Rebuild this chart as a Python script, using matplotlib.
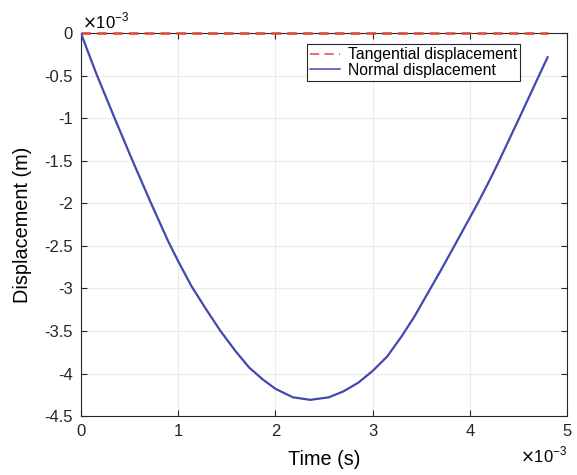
import numpy as np
import matplotlib
matplotlib.use("Agg")
import matplotlib.pyplot as plt

# values (time in ms, displacement in mm, i.e. x 10^-3)
time_ms = [0, 0.16, 0.34, 0.52, 0.71, 0.895, 1.0, 1.135, 1.29, 1.435, 1.585, 1.73,
           1.87, 2.0, 2.18, 2.36, 2.55, 2.7, 2.85, 3.0, 3.15, 3.30, 3.43, 3.56,
           3.7, 3.85, 3.97, 4.08, 4.18, 4.28, 4.49, 4.71, 4.80]
normal_mm = [0, -0.48, -0.98, -1.47, -1.97, -2.44, -2.68, -2.97, -3.25, -3.5, -3.73,
             -3.93, -4.07, -4.18, -4.28, -4.31, -4.28, -4.21, -4.11, -3.97, -3.80,
             -3.56, -3.33, -3.07, -2.79, -2.48, -2.23, -2.0, -1.78, -1.55, -1.04,
             -0.5, -0.28]
tangential_mm = [0.0] * len(time_ms)

xticks = [0, 1, 2, 3, 4, 5]
yticks = [0, -0.5, -1, -1.5, -2, -2.5, -3, -3.5, -4, -4.5]

plt.rcParams["font.family"] = ["Liberation Sans", "DejaVu Sans"]
plt.rcParams["axes.unicode_minus"] = False

fig = plt.figure(figsize=(5.77, 4.75), dpi=100)
ax = fig.add_axes([0.1404, 0.1242, 0.8423, 0.8053])

ax.plot(time_ms, tangential_mm, color="#E2483B", lw=1.9, dashes=(3.6, 2.4),
        label="Tangential displacement", clip_on=False, zorder=3)
ax.plot(time_ms, normal_mm, color="#4149B0", lw=1.6, label="Normal displacement",
        zorder=4)

ax.set_xlim(0, 5)
ax.set_ylim(-4.5, 0)
ax.set_xticks(xticks)
ax.set_yticks(yticks)
ax.set_xticklabels(["%g" % v for v in xticks])
ax.set_yticklabels(["%g" % v for v in yticks])
ax.grid(True, color="#EBEBEB", lw=0.8)
ax.set_axisbelow(True)
ax.tick_params(direction="in", length=4, width=0.8, colors="#262626",
               labelsize=12, top=True, right=True, pad=6)
for s in ax.spines.values():
    s.set_color("#262626")
    s.set_linewidth(0.8)

ax.set_xlabel("Time (s)", fontsize=14.3, labelpad=8)
ax.set_ylabel("Displacement (m)", fontsize=14.3, labelpad=9)

# MATLAB style exponent labels
ax.text(0.003, 1.012, r"$\times$10$^{\mathregular{-3}}$", transform=ax.transAxes,
        fontsize=12, ha="left", va="baseline")
ax.text(1.0, -0.12, r"$\times$10$^{\mathregular{-3}}$", transform=ax.transAxes,
        fontsize=12, ha="right", va="baseline")

leg = ax.legend(loc="upper right", bbox_to_anchor=(0.903, 0.9725), borderaxespad=0,
                fontsize=11.3, handlelength=1.9, handletextpad=0.5,
                labelspacing=0.05, borderpad=0.2, fancybox=False, framealpha=1)
leg.get_frame().set_edgecolor("#262626")
leg.get_frame().set_linewidth(0.8)
for h in leg.get_lines():
    h.set_linewidth(1.1)
leg.get_lines()[0].set_dashes((6, 3.5))

fig.savefig("out.png", dpi=100)
